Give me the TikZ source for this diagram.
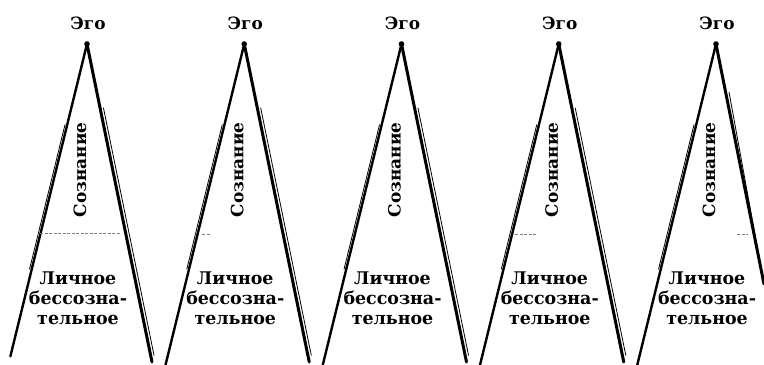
\documentclass[tikz,border=0pt]{standalone}
\usepackage{fontspec}
\setmainfont{DejaVu Serif}
\usetikzlibrary{calc}
\tikzset{
  thickline/.style={line width=3bp, line cap=round},
  thinline/.style={line width=0.8bp},
  lefthand/.style={line width=2.4bp, line cap=round},
  dashline/.style={line width=0.7bp, gray, dash pattern=on 3bp off 1.5bp},
  egolabel/.style={font=\bfseries\fontsize{17}{19}\selectfont},
  conslabel/.style={font=\bfseries\fontsize{17}{19}\selectfont, rotate=90},
  unclabel/.style={font=\bfseries\fontsize{17.5}{20}\selectfont, align=center},
}
\begin{document}
\begin{tikzpicture}[x=1bp,y=-1bp]
\useasboundingbox (0,0) rectangle (764,364);
\fill[white] (0,0) rectangle (764,364);
\foreach \i in {0,...,4}{
  \pgfmathsetmacro{\ax}{87+157.25*\i}
  \coordinate (apex\i) at (\ax,44);
  \coordinate (bl\i) at (\ax-79,366);
  \coordinate (br\i) at (\ax+65,362);
  \node[egolabel] (ego\i) at (\ax+1,23) {Эго};
  \node[conslabel] (cons\i) at (\ax-7,170) {Сознание};
  \node[unclabel] (unc\i) at (\ax-9,298) {Личное\\бессозна-\\тельное};
}
% left lines
\foreach \i in {1,...,4}{
  \draw[lefthand] (apex\i) -- (bl\i);
  \draw[thinline] ($(apex\i)!0.25!(bl\i)+(-2.2,0)$) -- ($(apex\i)!0.7!(bl\i)+(-2.2,0)$);
}
\draw[lefthand] (apex0) -- ($(apex0)!0.97!(bl0)$);
\draw[thinline] ($(apex0)!0.25!(bl0)+(-2.2,0)$) -- ($(apex0)!0.7!(bl0)+(-2.2,0)$);
% right lines
\foreach \i in {0,...,3}{
  \draw[thickline] (apex\i) -- (br\i);
  \draw[thinline] ($(apex\i)!0.2!(br\i)+(3.4,0)$) -- ($(apex\i)!0.98!(br\i)+(3.4,0)$);
}
\coordinate (edge) at (764,284);
\draw[thickline] (apex4) -- (edge);
\draw[thinline] ($(apex4)!0.2!(edge)+(3.4,0)$) -- (edge);
% apex dots
\foreach \i in {0,...,4}{ \fill (apex\i) circle (2.8); }
% faint dashed divisions
\coordinate (d0a) at (40,233); \coordinate (d0b) at (121,233);
\draw[dashline] (d0a) -- (d0b);
\coordinate (d1a) at (202,234); \coordinate (d1b) at (211,234);
\draw[dashline] (d1a) -- (d1b);
\coordinate (d3a) at (515,234); \coordinate (d3b) at (537,234);
\draw[dashline] (d3a) -- (d3b);
\coordinate (d4a) at (737,234); \coordinate (d4b) at (748,234);
\draw[dashline] (d4a) -- (d4b);
\end{tikzpicture}
\end{document}
